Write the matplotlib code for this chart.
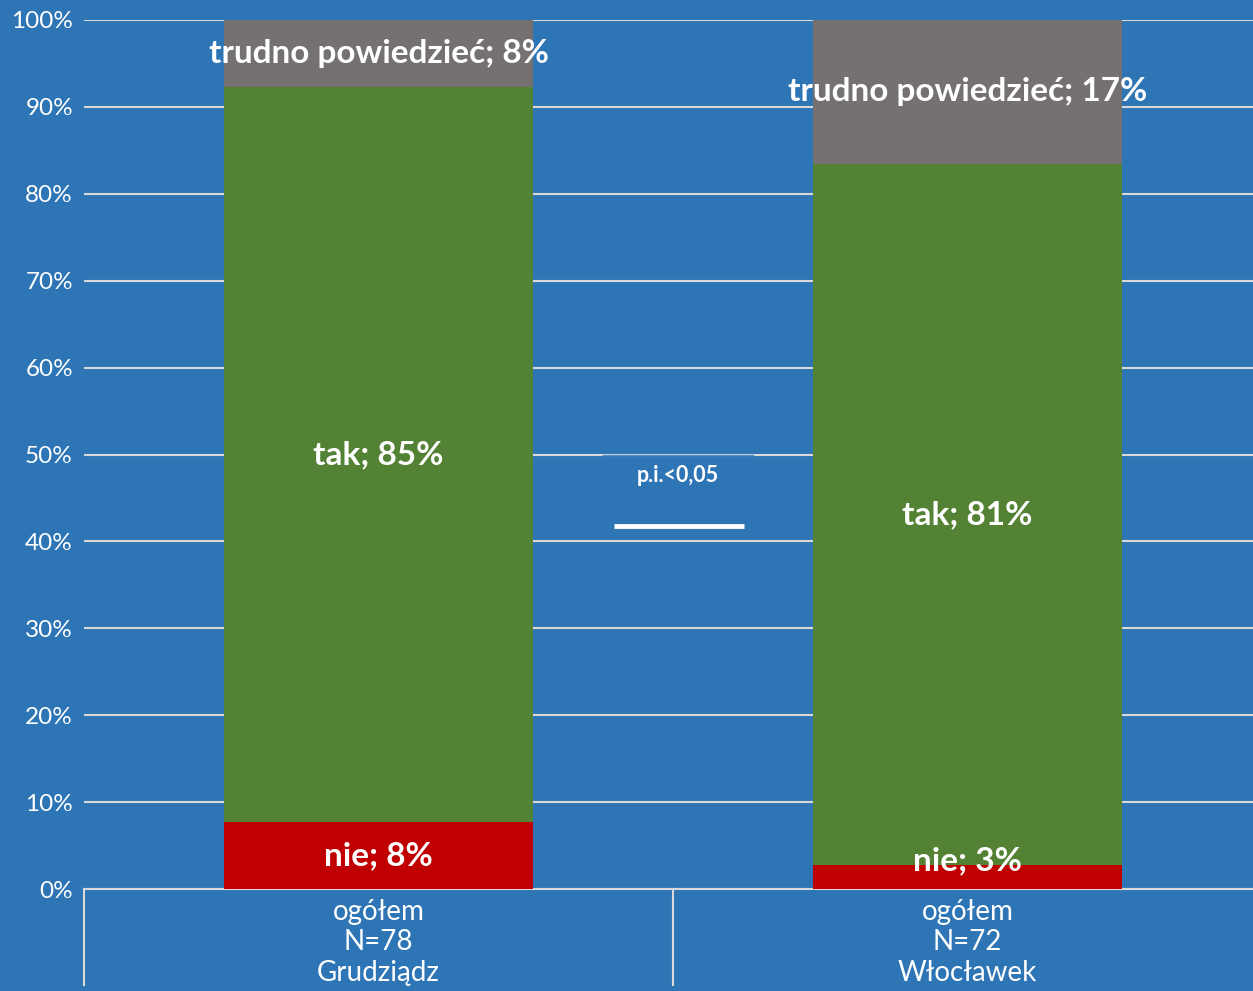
import matplotlib.pyplot as plt
from matplotlib.patches import Rectangle

# dane
miasta = ['ogółem\nN=78\nGrudziądz', 'ogółem\nN=72\nWłocławek']
nie = [7.7, 2.8]
tak = [84.6, 80.6]
trudno = [7.7, 16.7]
etykiety_nie = ['nie; 8%', 'nie; 3%']
etykiety_tak = ['tak; 85%', 'tak; 81%']
etykiety_trudno = ['trudno powiedzieć; 8%', 'trudno powiedzieć; 17%']

TLO = '#2E75B6'
SZARY = '#D9D9D9'

plt.rcParams['font.family'] = ['Lato', 'DejaVu Sans']

def draw():
    fig = plt.figure(figsize=(12.53, 9.91), dpi=100, facecolor=TLO)
    ax = fig.add_axes([84 / 1253, 102 / 991, 1178 / 1253, 869 / 991])
    ax.set_facecolor(TLO)

    x = range(len(miasta))
    w = 0.523
    ax.bar(x, nie, w, color='#C00000', zorder=3)
    ax.bar(x, tak, w, bottom=nie, color='#548235', zorder=3)
    dol = [a + b for a, b in zip(nie, tak)]
    ax.bar(x, trudno, w, bottom=dol, color='#767171', zorder=3)

    # etykiety danych
    styl = dict(color='white', fontsize=24, fontweight='bold', ha='center', va='center', zorder=5)
    for i in x:
        ax.text(i, max(nie[i] / 2, 3.2), etykiety_nie[i], **styl)
        ax.text(i, nie[i] + tak[i] / 2, etykiety_tak[i], **styl)
        ax.text(i, dol[i] + trudno[i] / 2, etykiety_trudno[i], **styl)

    ax.set_xlim(-0.5, 1.5)
    ax.set_ylim(0, 100)
    ax.set_yticks(range(0, 101, 10))
    ax.set_yticklabels([f'{v}%' for v in range(0, 101, 10)], color='white', fontsize=17.5)
    ax.yaxis.grid(True, color=SZARY, linewidth=1.5, zorder=0)
    ax.tick_params(axis='y', length=0, pad=8)
    ax.set_xticks([])
    for s in ['top', 'right', 'left']:
        ax.spines[s].set_visible(False)
    ax.spines['bottom'].set_color(SZARY)
    ax.spines['bottom'].set_linewidth(1.5)

    # etykiety kategorii z liniami podziału
    tr = ax.get_xaxis_transform()
    for xs in [-0.5, 0.5, 1.5]:
        ax.plot([xs, xs], [0, -0.11], color=SZARY, lw=1.5, transform=tr, clip_on=False)
    for i in x:
        ax.text(i, -0.011, miasta[i], transform=tr, ha='center', va='top',
                color='white', fontsize=20, linespacing=1.23)

    # istotność
    ax.add_patch(Rectangle((0.381, 44.5), 0.255, 5.5, facecolor=TLO,
                           edgecolor='none', zorder=2))
    ax.plot([0.381, 0.636], [50, 50], color='#5590C8', lw=1, zorder=2)
    ax.text(0.509, 47.6, 'p.i.<0,05', ha='center', va='center', color='white',
            fontsize=15.5, fontweight='bold', zorder=4)
    ax.plot([0.4, 0.62], [41.8, 41.8], color='white', lw=3.5, zorder=4,
            solid_capstyle='butt')

    fig.savefig('out.png', dpi=100, facecolor=TLO)

draw()
